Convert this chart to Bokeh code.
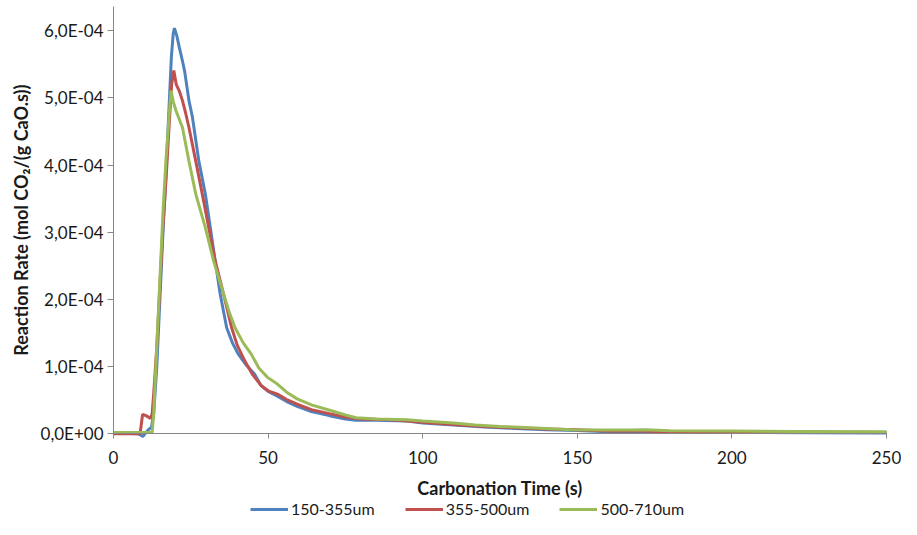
import math
from bokeh.plotting import figure
from bokeh.models import Range1d, FixedTicker, Legend, LegendItem, Label
from bokeh.embed import file_html
from bokeh.resources import INLINE

# ---- data (rate in units of 1E-4 mol CO2/(g CaO.s)) ----
t_150 = [0, 8, 9.5, 10.5, 11.5, 12.3, 13, 14, 15, 16, 17, 18, 18.7, 19.3, 19.7, 20.5, 21.3, 22.3,
         23, 24.4, 25.5, 27.6, 29.7, 31.3, 32.9, 34.5, 36.6, 38.5, 40.3, 43, 45.6, 47.7, 50, 53,
         56, 59.4, 64, 69.8, 75, 78.4, 85, 95, 100, 110, 120, 130, 140, 150, 160, 170, 180, 200, 225, 250]
r_150 = [0.01, 0.0, -0.04, 0.02, 0.07, 0.1, 0.3, 1.0, 2.0, 3.0, 3.9, 4.9, 5.6, 5.95, 6.04, 5.92, 5.75, 5.55,
         5.4, 4.96, 4.72, 4.06, 3.57, 3.07, 2.57, 2.08, 1.58, 1.35, 1.19, 1.02, 0.89, 0.72, 0.63, 0.56,
         0.48, 0.41, 0.33, 0.27, 0.22, 0.20, 0.20, 0.19, 0.16, 0.13, 0.10, 0.08, 0.06, 0.05, 0.03, 0.03, 0.02, 0.02, 0.015, 0.01]

t_355 = [0, 8.6, 9.4, 10.5, 12, 12.5, 13, 14, 15, 16, 17, 18, 18.8, 19.5, 20.3, 21.3, 22.3, 23.3,
         24.4, 26.6, 28.7, 30.8, 32.9, 35.6, 38.2, 40, 42.4, 45, 47.7, 50, 53, 56, 59.4, 64, 69.8,
         75, 80, 90, 100, 110, 120, 130, 140, 150, 160, 170, 180, 200, 225, 250]
r_355 = [0.0, 0.0, 0.29, 0.27, 0.23, 0.3, 0.6, 1.3, 2.2, 3.1, 3.8, 4.6, 5.2, 5.41, 5.2, 5.10, 4.96, 4.78,
         4.56, 4.06, 3.57, 3.07, 2.57, 2.08, 1.58, 1.32, 1.09, 0.88, 0.72, 0.64, 0.59, 0.51, 0.44, 0.36, 0.30,
         0.25, 0.22, 0.21, 0.17, 0.14, 0.11, 0.09, 0.07, 0.06, 0.04, 0.04, 0.03, 0.03, 0.025, 0.02]

t_500 = [0, 12.5, 13, 14, 15, 16, 17, 18, 18.6, 19.3, 20.2, 21.3, 22.3, 24.4, 26.6, 29.7, 32.4,
         35.6, 37.5, 39.3, 42, 44.5, 47, 49.8, 53, 56, 59.4, 64, 69.9, 75, 78.4, 85, 95, 100, 110,
         117, 125, 135, 148, 160, 167, 172, 180, 200, 220, 250]
r_500 = [0.02, 0.02, 0.3, 1.3, 2.3, 3.3, 4.1, 4.75, 5.11, 4.95, 4.81, 4.68, 4.56, 4.06, 3.57, 3.07, 2.57,
         2.08, 1.80, 1.58, 1.35, 1.19, 0.98, 0.84, 0.74, 0.62, 0.52, 0.43, 0.35, 0.28, 0.24, 0.22, 0.21, 0.19, 0.16,
         0.13, 0.11, 0.09, 0.06, 0.055, 0.055, 0.06, 0.045, 0.04, 0.035, 0.03]

series_names = ["150-355um", "355-500um", "500-710um"]
series_colors = ["#4F81BD", "#C0504D", "#9BBB59"]

x_ticks = [0, 50, 100, 150, 200, 250]
y_ticks = [0, 1, 2, 3, 4, 5, 6]
y_tick_labels = ["0,0E+00", "1,0E-04", "2,0E-04", "3,0E-04", "4,0E-04", "5,0E-04", "6,0E-04"]

x_title = "Carbonation Time (s)"
y_title = "Reaction Rate (mol CO\u2082/(g CaO.s))"

FONT = "Lato"
TXT = "#1a1a1a"
X_MIN, X_MAX = -36.55, 254.85
Y_MIN, Y_MAX = -1.276, 6.451
Y_AXIS_TOP = 6.36

p = figure(width=901, height=519, output_backend="svg", toolbar_location=None,
           x_range=Range1d(X_MIN, X_MAX), y_range=Range1d(Y_MIN, Y_MAX),
           min_border_left=0, min_border_right=0, min_border_top=0, min_border_bottom=0)
p.outline_line_color = None
p.xgrid.visible = False
p.ygrid.visible = False
p.background_fill_color = "white"
p.border_fill_color = "white"

renderers = []
for t, r, c in zip([t_150, t_355, t_500], [r_150, r_355, r_500], series_colors):
    renderers.append(p.line(t, r, line_color=c, line_width=3))

for ax in (p.xaxis[0], p.yaxis[0]):
    ax.axis_line_color = "#868686"
    ax.major_tick_line_color = "#868686"
    ax.minor_tick_line_color = None
    ax.major_tick_in = 0
    ax.major_label_text_font = FONT
    ax.major_label_text_font_size = "17px"
    ax.major_label_text_color = TXT

p.xaxis.fixed_location = 0
p.xaxis.bounds = (0, 250)
p.xaxis.ticker = FixedTicker(ticks=x_ticks)
p.xaxis.major_tick_out = 5
p.xaxis.major_label_standoff = 12

p.yaxis.fixed_location = 0
p.yaxis.bounds = (0, Y_AXIS_TOP)
p.yaxis.ticker = FixedTicker(ticks=y_ticks)
p.yaxis.major_label_overrides = {k: v for k, v in zip(y_ticks, y_tick_labels)}
p.yaxis.major_tick_out = 6
p.yaxis.major_label_standoff = 4

p.add_layout(Label(x=125, y=-0.80, text=x_title, text_font=FONT, text_font_size="18px",
                   text_font_style="bold", text_color=TXT, text_align="center",
                   text_baseline="middle"))
p.add_layout(Label(x=-30.0, y=3.18, text=y_title, text_font=FONT, text_font_size="18px",
                   text_font_style="bold", text_color=TXT, text_align="center",
                   text_baseline="middle", angle=math.pi / 2))

legend = Legend(items=[LegendItem(label=n, renderers=[r]) for n, r in zip(series_names, renderers)],
                orientation="horizontal", location=(250, 1),
                glyph_width=38, glyph_height=16, label_height=16, label_standoff=3,
                spacing=30, padding=0, margin=0,
                label_text_font=FONT, label_text_font_size="16px", label_text_color=TXT,
                border_line_color=None, background_fill_alpha=0)
p.add_layout(legend, "center")

open("out.html", "w").write(file_html(p, INLINE))
